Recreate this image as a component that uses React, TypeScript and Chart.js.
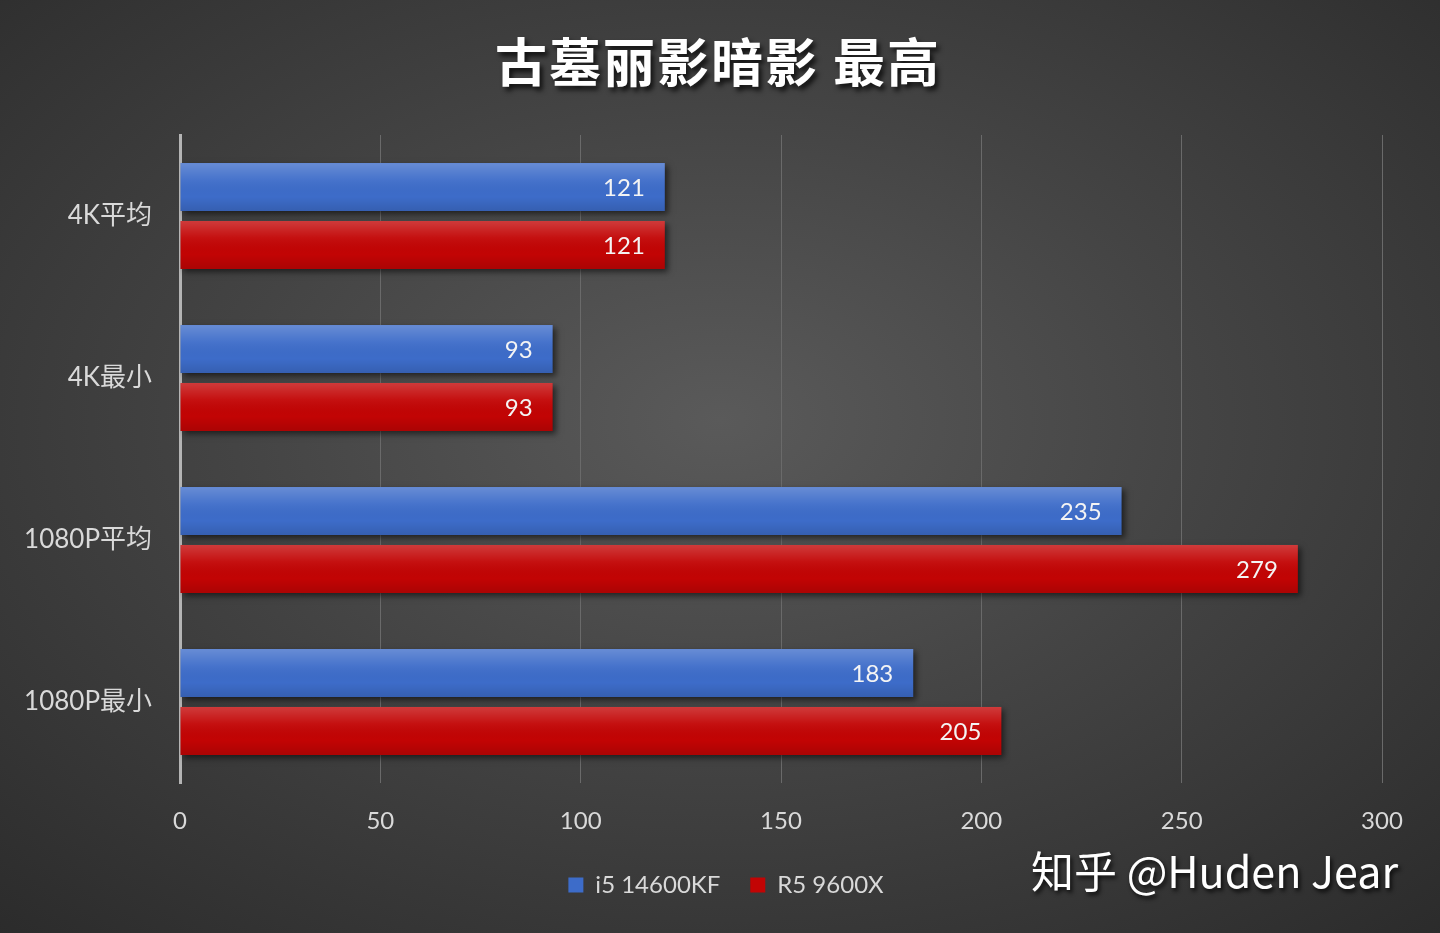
import React, { useEffect, useRef } from "react";
import { Chart, registerables } from "chart.js";

Chart.register(...registerables);

const categories = ["4K平均", "4K最小", "1080P平均", "1080P最小"];
const seriesNames = ["i5 14600KF", "R5 9600X"];
const i5Values = [121, 93, 235, 183];
const r5Values = [121, 93, 279, 205];
const xMin = 0;
const xMax = 300;
const xStep = 50;
const titleText = "古墓丽影暗影 最高";
const watermarkText = "知乎 @Huden Jear";

const FONT = "Lato, 'Noto Sans CJK SC', sans-serif";

const legendShiftPlugin = {
  id: "legendShift",
  afterLayout(chart: any) {
    if (chart.legend) {
      chart.legend.left += 35;
      chart.legend.right += 35;
    }
  },
};

const barFxPlugin = {
  id: "barFx",
  beforeDatasetsDraw(chart: any) {
    const ctx = chart.ctx;
    ctx.save();
    ctx.shadowColor = "rgba(0,0,0,0.55)";
    ctx.shadowBlur = 6;
    ctx.shadowOffsetX = 3;
    ctx.shadowOffsetY = 3;
  },
  afterDatasetsDraw(chart: any) {
    const ctx = chart.ctx;
    ctx.restore();
    chart.data.datasets.forEach((ds: any, di: number) => {
      const meta = chart.getDatasetMeta(di);
      meta.data.forEach((el: any, i: number) => {
        const { x, y, base, height } = el.getProps(["x", "y", "base", "height"], true);
        const top = y - height / 2;
        const g = ctx.createLinearGradient(0, top, 0, top + height);
        g.addColorStop(0, "rgba(255,255,255,0.22)");
        g.addColorStop(0.35, "rgba(255,255,255,0.05)");
        g.addColorStop(0.7, "rgba(0,0,0,0)");
        g.addColorStop(1, "rgba(0,0,0,0.12)");
        ctx.save();
        ctx.fillStyle = g;
        ctx.fillRect(base, top, x - base, height);
        ctx.restore();
        ctx.save();
        ctx.font = `24px ${FONT}`;
        ctx.fillStyle = "#f4f4f4";
        ctx.textAlign = "right";
        ctx.textBaseline = "middle";
        ctx.fillText(String(ds.data[i]), x - 20, y + 1);
        ctx.restore();
      });
    });
  },
};

export default function App() {
  const ref = useRef<HTMLCanvasElement | null>(null);

  useEffect(() => {
    document.body.style.margin = "0";
    const canvas = ref.current;
    if (!canvas) return;
    const ticks: number[] = [];
    for (let v = xMin; v <= xMax; v += xStep) ticks.push(v);
    const chart = new Chart(canvas, {
      type: "bar",
      data: {
        labels: categories,
        datasets: [
          {
            label: seriesNames[0],
            data: i5Values,
            backgroundColor: "#3d6cc9",
            categoryPercentage: 0.714,
            barPercentage: 0.83,
          },
          {
            label: seriesNames[1],
            data: r5Values,
            backgroundColor: "#c20404",
            categoryPercentage: 0.714,
            barPercentage: 0.83,
          },
        ],
      },
      options: {
        indexAxis: "y",
        animation: false,
        responsive: false,
        devicePixelRatio: 1,
        layout: { padding: { top: 135, right: 58, bottom: 26, left: 0 } },
        scales: {
          x: {
            min: xMin,
            max: xMax,
            afterBuildTicks: (s: any) => {
              s.ticks = ticks.map((v) => ({ value: v }));
            },
            afterFit: (s: any) => {
              s.height = 60;
            },
            grid: { color: "#6a6a6a", lineWidth: 1, drawTicks: false },
            border: { display: false },
            ticks: {
              color: "#d9d9d9",
              font: { size: 24, family: FONT },
              padding: 24,
            },
          },
          y: {
            afterFit: (s: any) => {
              s.width = 180;
            },
            grid: { display: false },
            border: { display: true, color: "#b4b4b4", width: 3 },
            ticks: {
              color: "#d9d9d9",
              font: { size: 26, family: FONT },
              padding: 20,
            },
          },
        },
        plugins: {
          legend: {
            position: "bottom",
            labels: {
              color: "#d9d9d9",
              font: { size: 24, family: FONT },
              boxWidth: 15,
              boxHeight: 15,
              padding: 30,
            },
          },
          tooltip: { enabled: false },
        },
      },
      plugins: [barFxPlugin, legendShiftPlugin],
    });
    return () => chart.destroy();
  }, []);

  return (
    <div
      style={{
        position: "relative",
        width: 1440,
        height: 933,
        overflow: "hidden",
        background:
          "radial-gradient(ellipse 75% 75% at 50% 45%, #5a5a5a 0%, #444 45%, #2b2b2b 100%)",
      }}
    >
      <canvas ref={ref} width={1440} height={933} style={{ position: "absolute", left: 0, top: 0 }} />
      <div
        style={{
          position: "absolute",
          left: 0,
          top: 24,
          width: 1436,
          textAlign: "center",
          fontFamily: "'Noto Sans CJK SC', sans-serif",
          fontWeight: 700,
          fontSize: 52,
          lineHeight: "72px",
          color: "#ffffff",
          letterSpacing: 2,
          textShadow: "3px 4px 5px rgba(0,0,0,0.75)",
        }}
      >
        {titleText}
      </div>
      <div
        style={{
          position: "absolute",
          left: 1031,
          top: 840,
          fontFamily: "'Noto Sans CJK SC', sans-serif",
          fontSize: 43,
          lineHeight: "58px",
          color: "#ffffff",
          whiteSpace: "nowrap",
          textShadow: "2px 3px 4px rgba(0,0,0,0.8)",
        }}
      >
        {watermarkText}
      </div>
    </div>
  );
}
